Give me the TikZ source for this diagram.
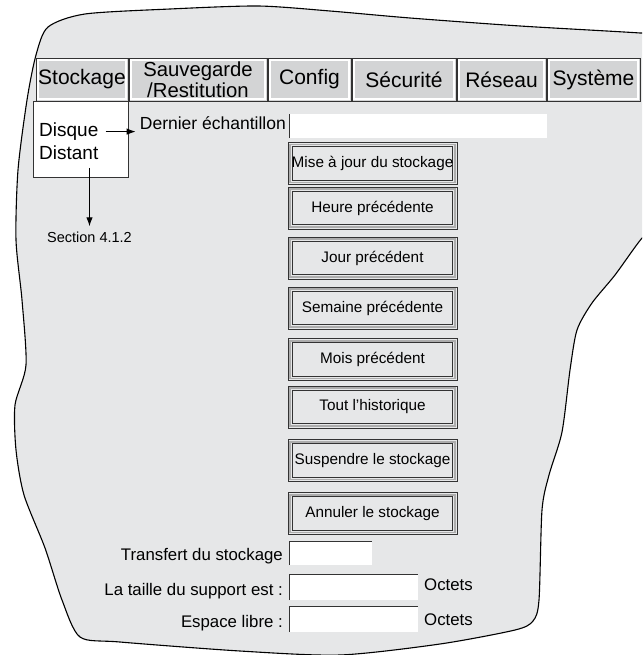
\documentclass[tikz,border=0pt]{standalone}
\usepackage{fontspec}
\setmainfont{Liberation Sans}
\usetikzlibrary{arrows.meta}
\definecolor{bg}{HTML}{E6E7E8}
\definecolor{tabgrey}{HTML}{D3D4D5}
\definecolor{edge}{HTML}{333333}
\tikzset{
 tabbox/.style={draw=edge, fill=tabgrey, line width=0.9pt, minimum height=43pt, inner sep=0pt,
   font=\fontsize{21}{21}\selectfont, align=center,
   path picture={\draw[white,line width=1.4pt] ([shift={(2pt,-2pt)}]path picture bounding box.north west) rectangle ([shift={(-2pt,2pt)}]path picture bounding box.south east);}},
 btn/.style={draw=edge, fill=bg, line width=0.9pt, minimum width=169pt, minimum height=42pt, inner sep=0pt,
   font=\fontsize{15.3}{17}\selectfont,
   path picture={\draw[gray!65,line width=1.6pt] ([shift={(2.2pt,-2.2pt)}]path picture bounding box.north west) rectangle ([shift={(-2.2pt,2.2pt)}]path picture bounding box.south east);
     \draw[edge,line width=0.9pt] ([shift={(4.3pt,-4.3pt)}]path picture bounding box.north west) rectangle ([shift={(-4.3pt,4.3pt)}]path picture bounding box.south east);}},
 field/.style={fill=white, inner sep=0pt},
 fieldedge/.style={draw=edge, line width=0.9pt},
 lbl/.style={inner sep=0pt, font=\fontsize{16.8}{18}\selectfont},
 arr/.style={-{Latex[length=9pt,width=6.5pt]}, line width=1pt, black}
}
\begin{document}
\begin{tikzpicture}[x=1pt,y=-1pt]
\useasboundingbox (0,0) rectangle (642,655);
% outline
\begin{scope}
\clip (0,0) rectangle (642,655);
\draw[fill=bg, line width=1.1pt] plot[smooth cycle, tension=0.45] coordinates {
 (48,27) (85,14) (170,9) (258,6) (330,11) (410,18) (520,26) (640,33) (662,36) (662,220)
 (642,238) (615,275) (592,303) (577,330) (570,370) (562,432) (549,475) (542,510)
 (539,600) (533,621) (515,630) (440,644) (340,655) (240,651) (120,642) (80,637)
 (62,600) (45,548) (24,495) (16,450) (15,405) (26,365) (22,300) (16,240) (18,170)
 (27,100) (36,55)};
\end{scope}
% white sub box
\node[draw=edge, fill=white, line width=0.9pt, minimum width=95pt, minimum height=76pt, inner sep=0pt] (sub) at (81,139) {};
% tabs
\node[tabbox, minimum width=92pt] (stock) at (82,79.5) {Stockage};
\node[tabbox, minimum width=138pt, font=\fontsize{20.3}{20.5}\selectfont] (sauve) at (198,79.5) {Sauvegarde\\/Restitution};
\node[tabbox, minimum width=83pt] (config) at (309.5,79.5) {Config};
\node[tabbox, minimum width=104pt] (secu) at (404,79.5) {Sécurité};
\node[tabbox, minimum width=89pt] (reseau) at (501.5,79.5) {Réseau};
\node[tabbox, minimum width=93pt] (systeme) at (593.5,79.5) {Système};
% left sub menu
\node[inner sep=0pt, anchor=base west, font=\fontsize{19}{20}\selectfont] (disque) at (39,136.5) {Disque};
\node[inner sep=0pt, anchor=base west, font=\fontsize{19}{20}\selectfont] (distant) at (39,159.5) {Distant};
\node[inner sep=0pt, anchor=base, font=\fontsize{14.5}{16}\selectfont] (section) at (89.5,242) {Section 4.1.2};
\node[inner sep=0pt, anchor=base east, font=\fontsize{17.5}{19}\selectfont] (dernier) at (286,130) {Dernier échantillon};
\draw[arr, shorten <=7pt, shorten >=4pt] (disque.east) -- (disque.east -| dernier.west);
\draw[arr, shorten <=8pt, shorten >=5pt] (section.north |- distant.south) -- (section.north);
% dernier field
\node[field, minimum width=257pt, minimum height=24pt] (fdernier) at (418.5,126) {};
\draw[fieldedge] (fdernier.south west) -- (fdernier.north west);
% buttons
\node[btn] (b1) at (372.5,163.5) {Mise à jour du stockage};
\node[btn] (b2) at (372.5,208) {Heure précédente};
\node[btn] (b3) at (372.5,258) {Jour précédent};
\node[btn] (b4) at (372.5,308) {Semaine précédente};
\node[btn] (b5) at (372.5,359.5) {Mois précédent};
\node[btn] (b6) at (372.5,407) {Tout l'historique};
\node[btn] (b7) at (372.5,460.5) {Suspendre le stockage};
\node[btn] (b8) at (372.5,513.5) {Annuler le stockage};
% bottom fields
\node[field, minimum width=82pt, minimum height=23pt] (ftrans) at (331,553.5) {};
\node[field, minimum width=128pt, minimum height=25pt] (ftaille) at (354,587.5) {};
\node[field, minimum width=128pt, minimum height=25pt] (fespace) at (354,619.5) {};
\draw[fieldedge] (ftrans.south west) -- (ftrans.north west) -- (ftrans.north east);
\draw[fieldedge] (ftaille.south west) -- (ftaille.north west) -- (ftaille.north east);
\draw[fieldedge] (fespace.south west) -- (fespace.north west) -- (fespace.north east);
\node[lbl, anchor=base east] (ltrans) at (283,560) {Transfert du stockage};
\node[lbl, anchor=base east] (ltaille) at (283,595) {La taille du support est :};
\node[lbl, anchor=base east] (lespace) at (283,627) {Espace libre :};
\node[lbl, anchor=base west] (oct1) at (424,590) {Octets};
\node[lbl, anchor=base west] (oct2) at (424,625) {Octets};
\end{tikzpicture}
\end{document}
